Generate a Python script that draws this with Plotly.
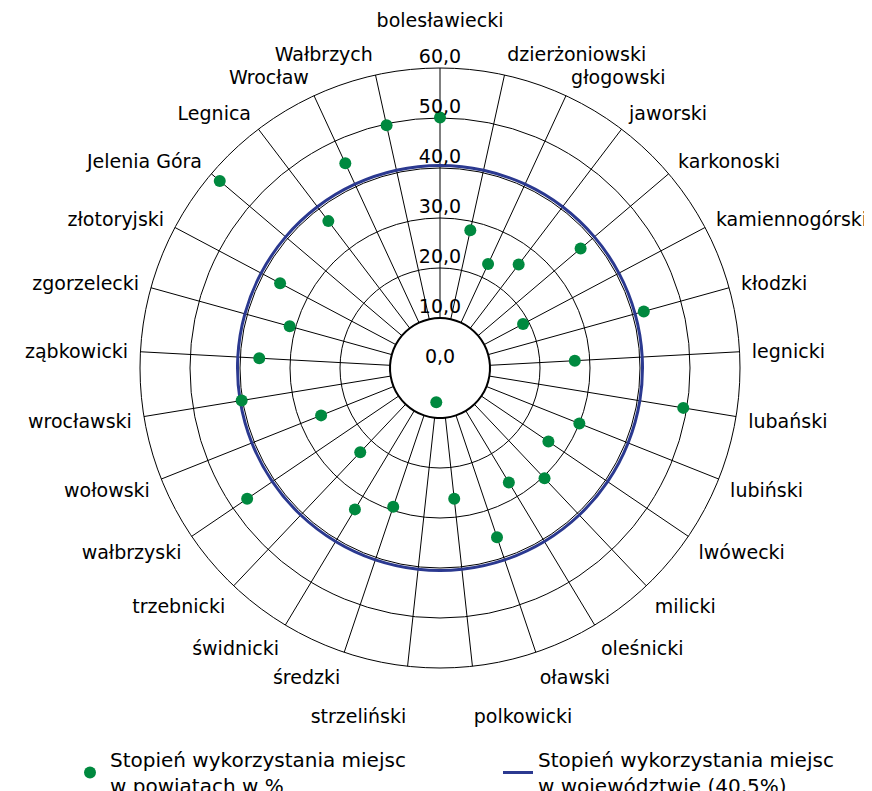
import plotly.graph_objects as go

categories = [
    "bolesławiecki", "dzierżoniowski", "głogowski", "jaworski", "karkonoski",
    "kamiennogórski", "kłodzki", "legnicki", "lubański", "lubiński",
    "lwówecki", "milicki", "oleśnicki", "oławski", "polkowicki",
    "strzeliński", "średzki", "świdnicki", "trzebnicki", "wałbrzyski",
    "wołowski", "wrocławski", "ząbkowicki", "zgorzelecki", "złotoryjski",
    "Jelenia Góra", "Legnica", "Wrocław", "Wałbrzych",
]
powiat_values = [
    50.1, 28.2, 22.9, 26.0, 36.9,
    18.8, 42.3, 27.0, 49.3, 30.0,
    26.2, 30.4, 26.7, 35.7, 26.3,
    6.9, 29.3, 33.0, 23.2, 46.6,
    25.6, 40.2, 36.2, 31.2, 36.2,
    57.8, 36.9, 45.1, 49.7,
]
voivodeship_value = 40.5
inner_ring_value = 10
radial_ticks = [0, 10, 20, 30, 40, 50, 60]
radial_tick_labels = ["0,0", "10,0", "20,0", "30,0", "40,0", "50,0", "60,0"]
legend_powiat = "Stopień wykorzystania miejsc<br>w powiatach w %"
legend_voiv = "Stopień wykorzystania miejsc<br>w województwie (40,5%)"

FONT = "DejaVu Sans"
NBSP = "\u00a0"
closed_cats = categories + categories[:1]

# a few tick labels get an empty line so they clear their neighbours
lift_up = {"bolesławiecki"}
push_down = {"strzeliński", "polkowicki"}
angular_tick_text = []
for c in categories:
    if c in lift_up:
        angular_tick_text.append(c + "<br>" + NBSP)
    elif c in push_down:
        angular_tick_text.append(NBSP + "<br>" + c)
    else:
        angular_tick_text.append(c)

fig = go.Figure()
# white inner disc hiding spokes inside the 10 ring
fig.add_trace(go.Scatterpolar(
    r=[inner_ring_value] * len(closed_cats), theta=closed_cats, mode="lines",
    line=dict(color="black", width=2, shape="spline"), fill="toself",
    fillcolor="white", showlegend=False, hoverinfo="skip"))
fig.add_trace(go.Scatterpolar(
    r=[voivodeship_value] * len(closed_cats), theta=closed_cats, mode="lines",
    line=dict(color="#2B3990", width=3, shape="spline"), name=legend_voiv,
    legend="legend2"))
fig.add_trace(go.Scatterpolar(
    r=powiat_values, theta=categories, mode="markers",
    marker=dict(color="#00893F", size=12), name=legend_powiat, legend="legend"))
fig.add_trace(go.Scatterpolar(
    r=radial_ticks, theta=[categories[0]] * len(radial_ticks), mode="text",
    text=radial_tick_labels, textposition="top center",
    textfont=dict(size=19, color="black", family=FONT), showlegend=False,
    hoverinfo="skip"))

fig.update_layout(
    width=872, height=791,
    margin=dict(l=0, r=0, t=0, b=0, autoexpand=False),
    paper_bgcolor="white", plot_bgcolor="white",
    font=dict(family=FONT, size=19, color="black"),
    polar=dict(
        domain=dict(x=[132 / 872, 732 / 872], y=[1 - 660 / 791, 1 - 60 / 791]),
        bgcolor="white",
        radialaxis=dict(range=[0, 60], tickvals=radial_ticks, showticklabels=False,
                        ticks="", showline=False, gridcolor="black", gridwidth=1,
                        layer="below traces"),
        angularaxis=dict(type="category", categoryorder="array",
                         categoryarray=categories, rotation=90,
                         direction="clockwise", showline=True, linecolor="black",
                         linewidth=1, gridcolor="black", gridwidth=1,
                         tickmode="array", tickvals=categories,
                         ticktext=angular_tick_text,
                         ticks="outside", ticklen=8,
                         tickcolor="rgba(0,0,0,0)", layer="below traces",
                         tickfont=dict(size=19, family=FONT)),
    ),
    legend=dict(orientation="h", x=62 / 872, y=1 - 732 / 791, xanchor="left",
                yanchor="top", font=dict(size=20, family=FONT), itemwidth=30,
                bgcolor="rgba(0,0,0,0)"),
    legend2=dict(orientation="h", x=490 / 872, y=1 - 732 / 791, xanchor="left",
                 yanchor="top", font=dict(size=20, family=FONT), itemwidth=30,
                 bgcolor="rgba(0,0,0,0)"),
)
fig.write_html("out.html")
